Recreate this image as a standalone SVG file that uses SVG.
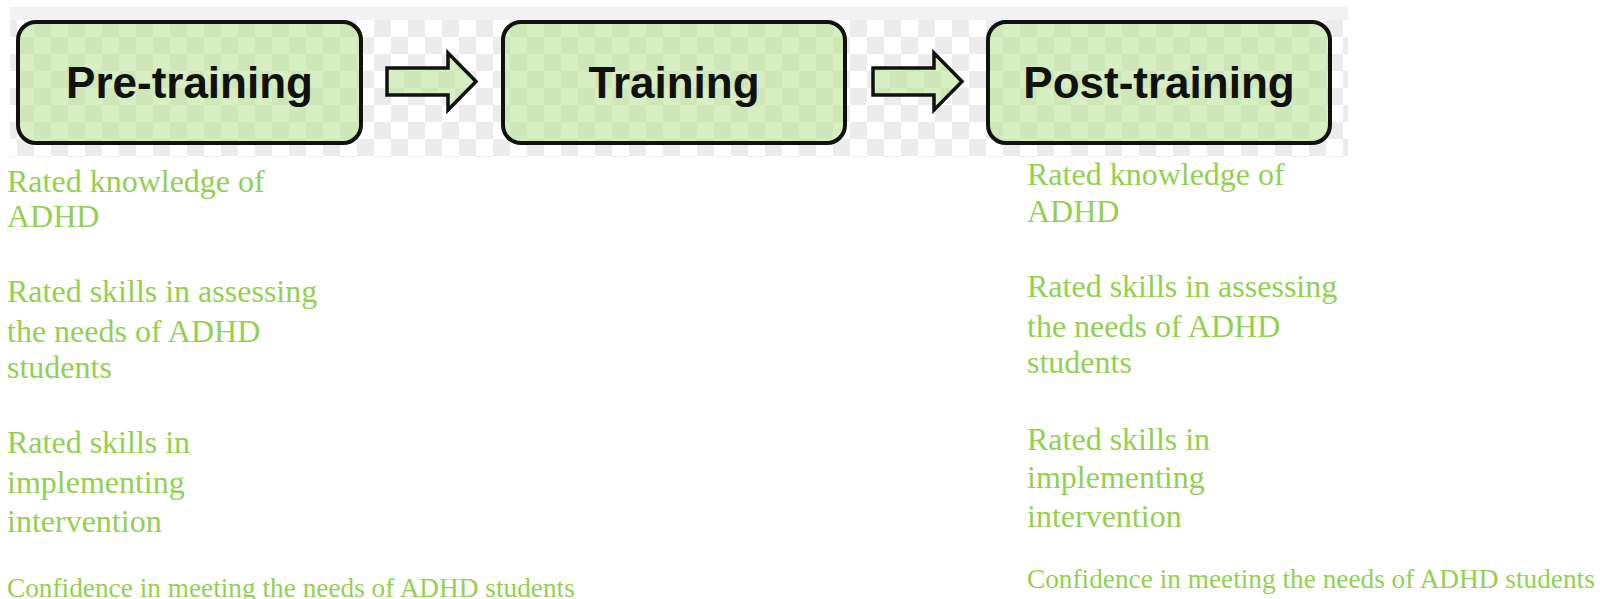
<svg xmlns="http://www.w3.org/2000/svg" width="1611" height="599" viewBox="0 0 1611 599">
  <defs>
    <pattern id="checker" x="0" y="20" width="34" height="34" patternUnits="userSpaceOnUse">
      <rect width="34" height="34" fill="#ffffff"/>
      <rect x="0" y="0" width="17" height="17" fill="#ececec"/>
      <rect x="17" y="17" width="17" height="17" fill="#ececec"/>
    </pattern>
    <pattern id="greenChecker" x="0" y="20" width="34" height="34" patternUnits="userSpaceOnUse">
      <rect width="34" height="34" fill="#d7edc2"/>
      <rect x="0" y="0" width="17" height="17" fill="#cfe6b9"/>
      <rect x="17" y="17" width="17" height="17" fill="#cfe6b9"/>
    </pattern>
    <path id="arrowShape" d="M0,0 H61 V-15 L89,13.5 L61,42 V27 H0 Z"/>
  </defs>
  <style>
    .box { fill: url(#greenChecker); stroke: #111111; stroke-width: 4; }
    .boxlabel { font-family: "Liberation Sans", Arial, sans-serif; font-weight: bold; font-size: 44px; fill: #111111; text-anchor: middle; }
    .arrow { fill: url(#greenChecker); stroke: #111111; stroke-width: 3.5; stroke-linejoin: miter; }
    .note { font-family: "Liberation Serif", "Times New Roman", serif; font-size: 32px; fill: #92d050; }
    .note-small { font-family: "Liberation Serif", "Times New Roman", serif; font-size: 27.3px; fill: #92d050; }
  </style>

  <rect x="0" y="0" width="1611" height="599" fill="#ffffff"/>
  <!-- background band -->
  <rect x="10" y="7" width="1338" height="13" fill="#f1f2f4"/>
  <rect x="10" y="20" width="1338" height="137" fill="url(#checker)"/>

  <g id="node-pre">
    <rect class="box" x="18" y="22" width="343" height="121" rx="18" ry="18"/>
    <text class="boxlabel" x="189.5" y="98">Pre-training</text>
  </g>
  <g id="node-training">
    <rect class="box" x="503" y="22" width="342" height="121" rx="18" ry="18"/>
    <text class="boxlabel" x="674" y="98">Training</text>
  </g>
  <g id="node-post">
    <rect class="box" x="988" y="22" width="342" height="121" rx="18" ry="18"/>
    <text class="boxlabel" x="1159" y="98">Post-training</text>
  </g>

  <g id="connectors">
    <use href="#arrowShape" class="arrow" transform="translate(387,68)"/>
    <use href="#arrowShape" class="arrow" transform="translate(873,68)"/>
  </g>

  <g id="pre-notes">
    <text class="note" x="7" y="192">Rated knowledge of</text>
    <text class="note" x="7" y="227">ADHD</text>
    <text class="note" x="7" y="302">Rated skills in assessing</text>
    <text class="note" x="7" y="342">the needs of ADHD</text>
    <text class="note" x="7" y="378">students</text>
    <text class="note" x="7" y="453">Rated skills in</text>
    <text class="note" x="7" y="493">implementing</text>
    <text class="note" x="7" y="532">intervention</text>
    <text class="note-small" x="7" y="597">Confidence in meeting the needs of ADHD students</text>
  </g>

  <g id="post-notes">
    <text class="note" x="1027" y="185">Rated knowledge of</text>
    <text class="note" x="1027" y="222">ADHD</text>
    <text class="note" x="1027" y="297">Rated skills in assessing</text>
    <text class="note" x="1027" y="337">the needs of ADHD</text>
    <text class="note" x="1027" y="373">students</text>
    <text class="note" x="1027" y="450">Rated skills in</text>
    <text class="note" x="1027" y="488">implementing</text>
    <text class="note" x="1027" y="527">intervention</text>
    <text class="note-small" x="1027" y="588">Confidence in meeting the needs of ADHD students</text>
  </g>
</svg>
